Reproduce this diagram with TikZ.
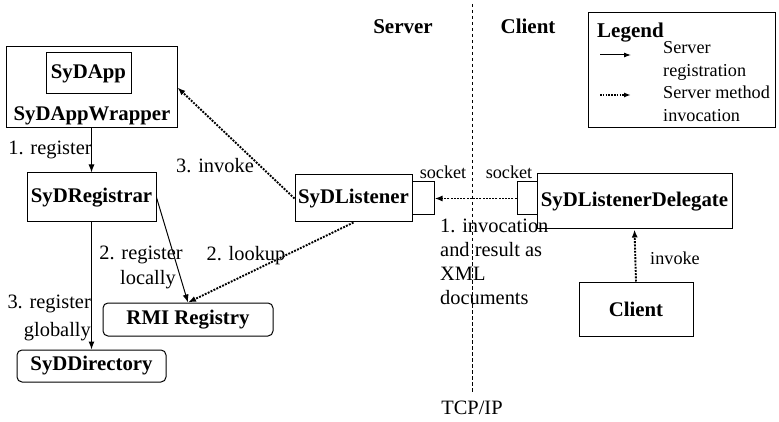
\documentclass[tikz,border=0pt]{standalone}
\usepackage{fontspec}
\setmainfont{Liberation Serif}
\usetikzlibrary{arrows.meta}
\begin{document}
\begin{tikzpicture}[x=1pt,y=-1pt,
  box/.style={draw,line width=1pt,inner sep=0pt,font=\fontsize{20.8}{24}\selectfont\bfseries},
  rbox/.style={box,rounded corners=5pt},
  lbl/.style={inner sep=0pt,font=\fontsize{20.4}{25}\selectfont},
  slbl/.style={inner sep=0pt,font=\fontsize{18.2}{23}\selectfont},
  hdr/.style={inner sep=0pt,font=\fontsize{21}{24}\selectfont\bfseries},
  reg/.style={line width=1pt,-{Latex[length=8pt,width=6pt]}},
  inv/.style={line width=1.9pt,dash pattern=on 1.9pt off 1.3pt,-{Latex[length=8pt,width=6pt]}},
  sep/.style={line width=1pt,dash pattern=on 3.5pt off 2.5pt}]
\useasboundingbox (0,0) rectangle (779,422);
% server side nodes
\node[box,minimum width=171pt,minimum height=81pt] (wrapper) at (91.5,87.5) {};
\node[box,minimum width=85pt,minimum height=41pt] (app) at (88.5,73.5) {SyDApp};
\node[inner sep=0pt,font=\fontsize{20.8}{24}\selectfont\bfseries] (wraplbl) at (92,116) {SyDAppWrapper};
\node[box,minimum width=129pt,minimum height=49pt] (registrar) at (91.5,197.5) {SyDRegistrar};
\node[rbox,minimum width=149pt,minimum height=32pt] (directory) at (91.5,366) {SyDDirectory};
\node[rbox,minimum width=170pt,minimum height=33pt] (rmi) at (188,319.5) {RMI Registry};
\node[box,minimum width=117pt,minimum height=47pt] (listener) at (353.5,198.5) {SyDListener};
\node[draw,line width=1pt,minimum width=22pt,minimum height=33pt,inner sep=0pt] (lsock) at (423,198.5) {};
\node[draw,line width=1pt,minimum width=20pt,minimum height=33pt,inner sep=0pt] (csock) at (527,198.5) {};
\node[box,minimum width=195pt,minimum height=55pt] (delegate) at (634.5,201.5) {SyDListenerDelegate};
\node[box,minimum width=114pt,minimum height=54pt] (client) at (636,309) {Client};
% separator
\coordinate (septop) at (472,4);
\coordinate (sepbot) at (472,393);
\draw[sep] (septop) -- (sepbot);
\node[hdr] (srvhdr) at (403,27) {Server};
\node[hdr] (clihdr) at (528,26) {Client};
\node[lbl] (tcp) at (472,408) {TCP/IP};
% connectors
\draw[reg] (wrapper.south) -- (registrar.north);
\draw[reg] (registrar.south) -- (directory.north);
\draw[reg] (registrar.east) -- (rmi.north);
\draw[inv] (listener.south) -- (rmi.north);
\draw[inv] (listener.west) -- (wrapper.east);
\draw[inv] (csock.west) -- (lsock.east);
\draw[inv] (client.north) -- (delegate.south);
% labels
\node[lbl] (l1) at (50,150) {1. register};
\node[lbl] (l3inv) at (215,166) {3. invoke};
\node[lbl,align=center] (l2reg) at (141,267.5) {2. register\\\hspace*{14pt}locally};
\node[lbl] (l2look) at (246,256) {2. lookup};
\node[lbl,align=right,anchor=east,font=\fontsize{20.4}{28}\selectfont] (l3reg) at (91,318) {3. register\\globally};
\node[slbl] (sock1) at (443,172) {socket};
\node[slbl] (sock2) at (509,172) {socket};
\node[lbl,align=left,anchor=north west,font=\fontsize{20.4}{24}\selectfont] (xml) at (440,219) {1. invocation\\and result as\\XML\\documents};
\node[slbl] (cinv) at (675,258) {invoke};
% legend
\node[draw,line width=1pt,minimum width=187pt,minimum height=115pt,inner sep=0pt] (legend) at (681.5,70.5) {};
\node[hdr,anchor=west] (legtitle) at (597,33) {Legend};
\coordinate (la1) at (600,55);
\coordinate (lb1) at (631,55);
\coordinate (la2) at (600,95);
\coordinate (lb2) at (631,95);
\draw[reg,-{Latex[length=7pt,width=5pt]}] (la1) -- (lb1);
\draw[inv,line width=1.5pt,dash pattern=on 1.5pt off 1.3pt,-{Latex[length=7pt,width=5pt]}] (la2) -- (lb2);
\node[slbl,align=left,anchor=north west] (legt1) at (663,41) {Server\\registration};
\node[slbl,align=left,anchor=north west] (legt2) at (663,86) {Server method\\invocation};
\end{tikzpicture}
\end{document}
